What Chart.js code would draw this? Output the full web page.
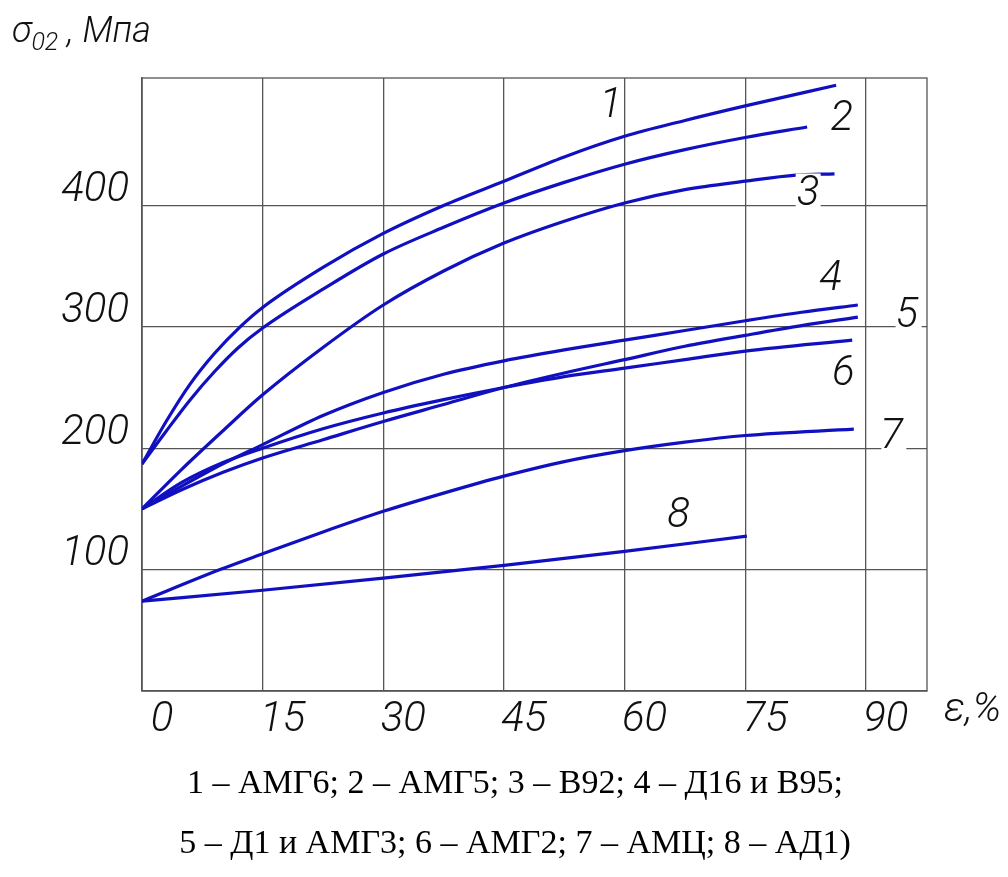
<!DOCTYPE html>
<html lang="ru">
<head>
<meta charset="utf-8">
<title>σ02 – ε</title>
<script src="https://cdn.jsdelivr.net/npm/chart.js@4.4.1/dist/chart.umd.min.js"></script>
<style>
  html, body { margin: 0; padding: 0; background: #fff; }
  #wrap { position: relative; width: 1008px; height: 877px; overflow: hidden; }
  #chart-box { position: absolute; left: 0; top: 0; width: 1008px; height: 877px; }
  .gost { position: absolute; font-family: Roboto, "Liberation Sans Narrow", sans-serif;
          font-style: italic; font-weight: 300; color: #111; white-space: nowrap; }
  #ytitle { left: 12px; top: 9px; font-size: 36px; }
  #ytitle sub { font-size: 25px; vertical-align: -8px; }
  #xtitle { left: 944px; top: 684px; font-size: 40px; }
  .caption { position: absolute; left: 0; width: 1030px; text-align: center;
             font-family: "Liberation Serif", "Times New Roman", serif; font-size: 34px; color: #000; }
</style>
</head>
<body>
<div id="wrap">
  <div id="chart-box"><canvas id="chart"></canvas></div>
  <div class="gost" id="ytitle">σ<sub>02</sub> , Мпа</div>
  <div class="gost" id="xtitle">ε,%</div>
  <div class="caption" id="cap1" style="top:763px"></div>
  <div class="caption" id="cap2" style="top:823px"></div>
</div>
<script>
// axis ticks
const xTicks = [0, 15, 30, 45, 60, 75, 90];
const yTicks = [0, 100, 200, 300, 400];
const xMax = 97.6;
const yMax = 505;

const alloyNames = ['АМГ6', 'АМГ5', 'В92', 'Д16 и В95', 'Д1 и АМГ3', 'АМГ2', 'АМЦ', 'АД1'];

// [ε %, σ02 MPa]
const curve1 = [[0, 187], [3, 222], [6, 253], [9, 278], [12.2, 300], [15, 316], [22.5, 349], [30, 377],
                [37.5, 400], [45, 420], [52.5, 440], [60, 457], [67.5, 470], [75, 482], [86.3, 499]];
const curve2 = [[0, 187], [3, 214], [6, 240], [9, 263], [12, 283], [15, 299], [22.5, 331], [30, 360],
                [37.5, 382], [45, 402], [52.5, 419], [60, 434], [67.5, 446], [75, 456], [82.7, 464.6]];
const curve3 = [[0, 150], [5, 183], [10, 214], [15, 244], [22.5, 283], [30, 318], [37.5, 346],
                [45, 369], [52.5, 387], [60, 402], [67.5, 413], [75, 420], [81.3, 425], [86.1, 426]];
const curve4 = [[0, 150], [5, 169], [10, 187], [15, 203], [22.5, 227], [30, 246], [37.5, 261], [45, 272],
                [52.5, 281], [60, 289], [67.5, 297], [75, 305], [82, 312], [89, 318]];
const curve5 = [[0, 150], [5, 166], [10, 180], [15, 192], [22.5, 207], [30, 222], [37.5, 236], [45, 250],
                [52.5, 262], [60, 273], [67.5, 284], [75, 293], [82, 301], [89, 308]];
const curve6 = [[0, 150], [5, 172], [10, 188], [15, 200], [22.5, 216], [30, 229], [37.5, 240], [45, 250],
                [52.5, 259], [60, 266], [67.5, 273], [75, 280], [88.3, 289]];
const curve7 = [[0, 74], [9.7, 100], [15, 113], [22.5, 131], [30, 148], [37.5, 163], [45, 177],
                [52.5, 189], [60, 198], [67.5, 205], [75, 210.5], [88.5, 215.7]];
const curve8 = [[0, 74], [15, 83], [30, 93], [45, 103.5], [60, 115], [75.2, 127.6]];

const curves = [curve1, curve2, curve3, curve4, curve5, curve6, curve7, curve8];

// where each curve number stands (ε, σ at the foot of the digit)
const curveLabels = [[58.3, 472.5], [87.0, 462], [82.8, 400], [85.6, 330],
                     [95.1, 300], [87.2, 252], [93.2, 200], [66.7, 135]];

const curveColor = '#1010c0';
const gridColor = '#555555';
const gostFont = { family: 'Roboto, "Liberation Sans Narrow", sans-serif', style: 'italic', weight: 300, size: 42 };

document.getElementById('cap1').textContent =
  alloyNames.slice(0, 4).map((n, i) => `${i + 1} – ${n};`).join(' ');
document.getElementById('cap2').textContent =
  alloyNames.slice(4).map((n, i) => `${i + 5} – ${n}`).join('; ') + ')';

// outer frame of the plot
const framePlugin = {
  id: 'frame',
  beforeDatasetsDraw(chart) {
    const { ctx, chartArea: a } = chart;
    ctx.save();
    ctx.strokeStyle = gridColor;
    ctx.lineWidth = 1.3;
    ctx.strokeRect(a.left, a.top, a.right - a.left, a.bottom - a.top);
    ctx.restore();
  }
};

// curve numbers, each one cuts a small gap in whatever passes under it
const curveNumbers = {
  id: 'curveNumbers',
  afterDatasetsDraw(chart) {
    const { ctx, scales: { x, y } } = chart;
    ctx.save();
    ctx.font = `italic 300 ${gostFont.size}px ${gostFont.family}`;
    ctx.textAlign = 'center';
    ctx.textBaseline = 'alphabetic';
    curveLabels.forEach(([lx, ly], i) => {
      const px = x.getPixelForValue(lx);
      const py = y.getPixelForValue(ly);
      const txt = String(i + 1);
      const m = ctx.measureText(txt);
      ctx.fillStyle = '#fff';
      ctx.fillRect(px - m.actualBoundingBoxLeft - 2, py - m.actualBoundingBoxAscent - 2,
                   m.actualBoundingBoxLeft + m.actualBoundingBoxRight + 4, m.actualBoundingBoxAscent + 5);
      ctx.fillStyle = '#111';
      ctx.fillText(txt, px, py);
    });
    ctx.restore();
  }
};

new Chart(document.getElementById('chart'), {
  type: 'scatter',
  data: {
    datasets: curves.map((pts, i) => ({
      label: `${i + 1} – ${alloyNames[i]}`,
      data: pts.map(([x, y]) => ({ x, y })),
      showLine: true,
      borderColor: curveColor,
      backgroundColor: curveColor,
      borderWidth: 3.2,
      pointRadius: 0,
      cubicInterpolationMode: 'monotone',
      fill: false
    }))
  },
  options: {
    responsive: true,
    maintainAspectRatio: false,
    animation: false,
    layout: { padding: { top: 78, right: 81, left: 0, bottom: 0 } },
    plugins: { legend: { display: false }, tooltip: { enabled: false } },
    scales: {
      x: {
        type: 'linear', min: 0, max: xMax,
        afterBuildTicks: s => { s.ticks = xTicks.map(v => ({ value: v })); },
        afterFit: s => { s.height = 186; },
        grid: { color: gridColor, lineWidth: 1.3, drawTicks: false },
        border: { color: gridColor, width: 1.3 },
        ticks: { font: gostFont, color: '#111', padding: 4, labelOffset: 20, maxRotation: 0, autoSkip: false }
      },
      y: {
        type: 'linear', min: 0, max: yMax,
        afterBuildTicks: s => { s.ticks = yTicks.map(v => ({ value: v })); },
        afterFit: s => { s.width = 142; },
        grid: { color: gridColor, lineWidth: 1.3, drawTicks: false },
        border: { color: gridColor, width: 1.3 },
        ticks: { font: gostFont, color: '#111', padding: 13, labelOffset: -15,
                 callback: v => (v === 0 ? '' : v) }
      }
    }
  },
  plugins: [framePlugin, curveNumbers]
});
</script>
</body>
</html>
